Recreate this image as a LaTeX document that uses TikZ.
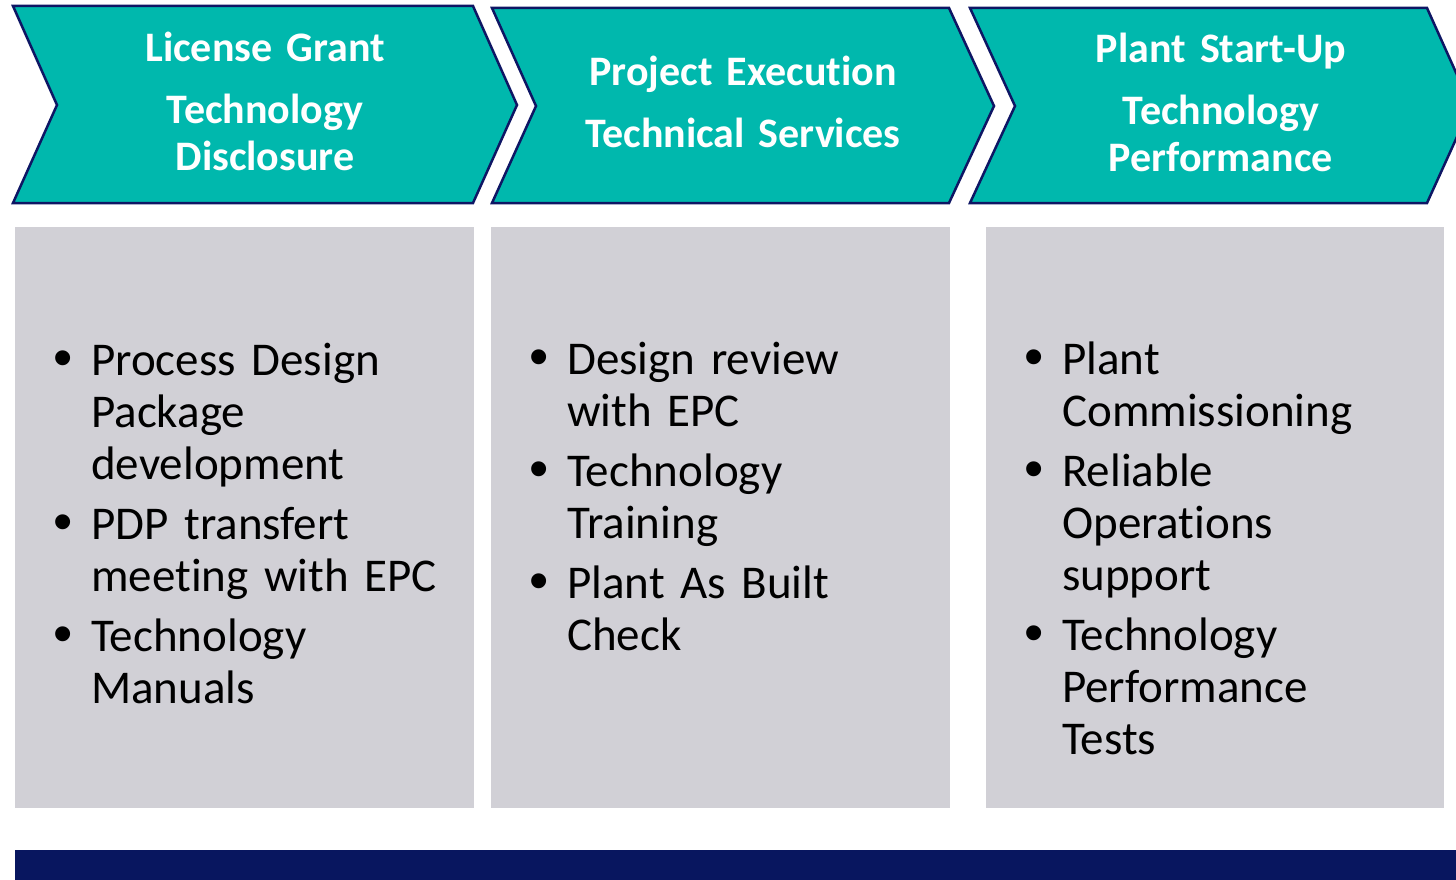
\documentclass[tikz,border=0pt]{standalone}
\usepackage{fontspec}
\setmainfont{Carlito}[Ligatures=NoCommon, WordSpace=0.9]
\newfontfamily\bulletfont{Liberation Sans}
\usetikzlibrary{positioning}
\definecolor{tealfill}{RGB}{0,184,173}
\definecolor{navyline}{RGB}{14,22,100}
\definecolor{panelgray}{RGB}{209,208,214}
\definecolor{navybar}{RGB}{8,22,95}
\newcommand{\bul}{\leavevmode\llap{\makebox[56pt]{\bulletfont\fontsize{55}{52}\selectfont\raisebox{-1pt}{\textbullet}}}}
\tikzset{
    chevron/.style={
           fill=tealfill,
           draw=navyline, line width=2.5pt,
           line join=miter,
           },
    panel/.style={fill=panelgray},
    heading/.style={
           anchor=north, inner sep=0pt,
           text width=440pt, align=center,
           text=white,
           font=\fontsize{42}{47}\selectfont\bfseries\setlength{\parskip}{15pt},
           },
    items/.style={
           anchor=north west, inner sep=0pt,
           text width=390pt, align=left,
           font=\fontsize{47}{52}\selectfont\setlength{\parskip}{8pt}\setlength{\parindent}{0pt},
           },
}

\begin{document}
\begin{tikzpicture}[x=1pt, y=-1pt]
  \clip (0,0) rectangle (1456,880);
  % chevrons
  \draw[chevron] (13,6) -- (473,6) -- (517,105) -- (473,203) -- (13,203) -- (57,105) -- cycle;
  \draw[chevron] (492,8) -- (949,8) -- (994,106) -- (949,203) -- (492,203) -- (536,106) -- cycle;
  \draw[chevron] (970,8) -- (1427,8) -- (1471,106) -- (1427,203) -- (970,203) -- (1015,106) -- cycle;
  \node[heading] (H1) at (265,28.1)  {\strut License Grant\par Technology\\Disclosure};
  \node[heading] (H2) at (743,52.1)  {\strut Project Execution\par Technical Services};
  \node[heading] (H3) at (1221,29.1) {\strut Plant Start-Up\par Technology\\Performance};
  % panels
  \path[panel] (15,227)  rectangle (474,808);
  \path[panel] (491,227) rectangle (950,808);
  \path[panel] (986,227) rectangle (1444,808);
  \node[items] (P1) at (91,338.6) {\strut\bul Process Design\\Package\\development\par
    \bul PDP transfert\\meeting with EPC\par
    \bul Technology\\Manuals};
  \node[items] (P2) at (567,337.6) {\strut\bul Design review\\with EPC\par
    \bul Technology\\Training\par
    \bul Plant As Built\\Check};
  \node[items] (P3) at (1062,337.6) {\strut\bul Plant\\Commissioning\par
    \bul Reliable\\Operations\\support\par
    \bul Technology\\Performance\\Tests};
  % bottom bar
  \fill[navybar] (15,850) rectangle (1456,880);
\end{tikzpicture}
\end{document}
